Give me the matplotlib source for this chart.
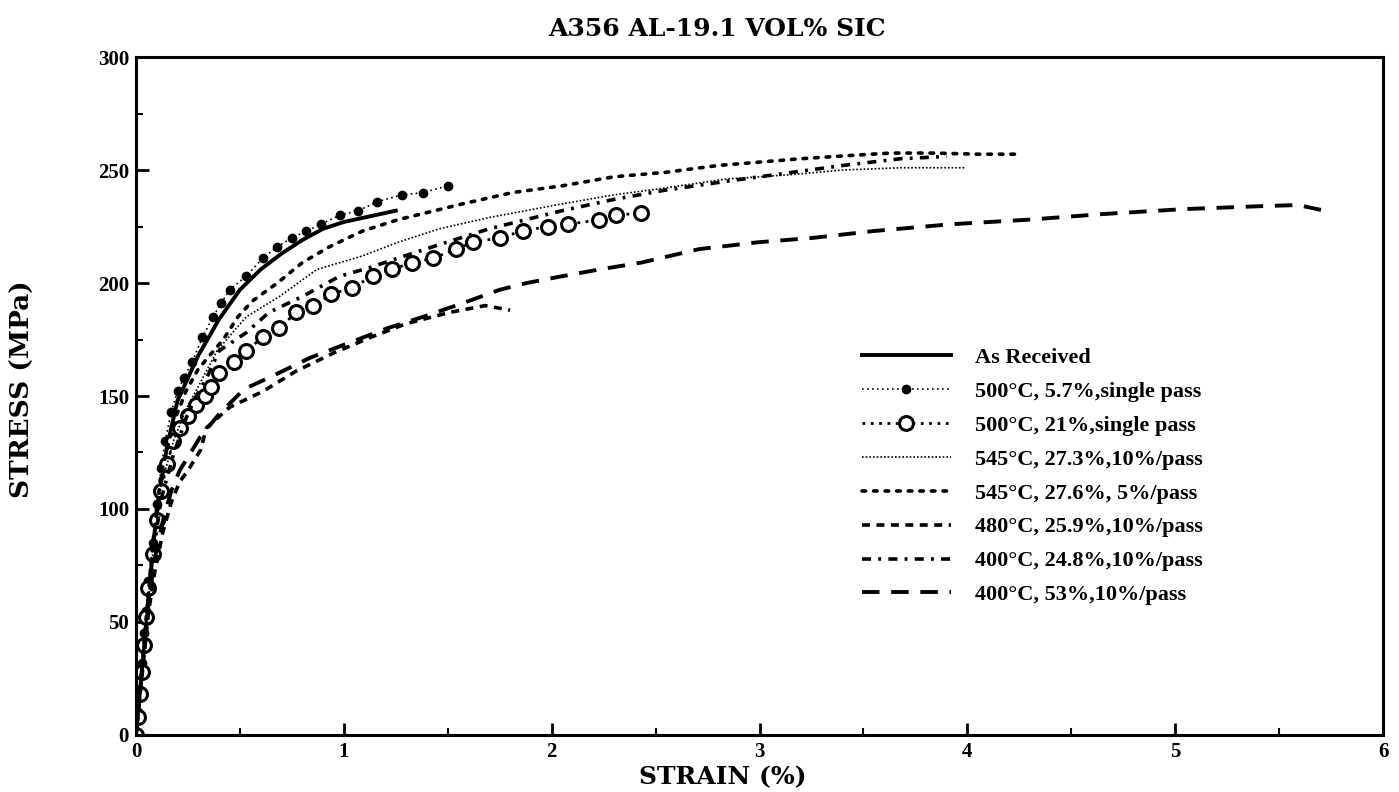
import matplotlib
matplotlib.use('Agg')
import matplotlib.pyplot as plt
from matplotlib.ticker import MultipleLocator

# stress-strain readings, strain in %, stress in MPa
as_recv_x = [0, 0.03, 0.06, 0.10, 0.15, 0.20, 0.30, 0.40, 0.50, 0.60, 0.70, 0.80, 0.90, 1.00, 1.10, 1.25]
as_recv_y = [0, 30, 60, 100, 128, 148, 168, 184, 197, 206, 213, 219, 224, 227, 229, 232]

p57_x = [0, 0.01, 0.02, 0.03, 0.04, 0.05, 0.06, 0.08, 0.10, 0.12, 0.14, 0.17, 0.20, 0.23, 0.27,
         0.32, 0.37, 0.41, 0.45, 0.53, 0.61, 0.68, 0.75, 0.82, 0.89, 0.98, 1.07, 1.16, 1.28, 1.38, 1.50]
p57_y = [0, 10, 20, 32, 45, 55, 68, 85, 102, 118, 130, 143, 152, 158, 165,
         176, 185, 191, 197, 203, 211, 216, 220, 223, 226, 230, 232, 236, 239, 240, 243]

p21_x = [0, 0.01, 0.02, 0.03, 0.04, 0.05, 0.06, 0.08, 0.10, 0.12, 0.15, 0.18, 0.21, 0.25, 0.29, 0.33,
         0.36, 0.40, 0.47, 0.53, 0.61, 0.69, 0.77, 0.85, 0.94, 1.04, 1.14, 1.23, 1.33, 1.43, 1.54,
         1.62, 1.75, 1.86, 1.98, 2.08, 2.23, 2.31, 2.43]
p21_y = [0, 8, 18, 28, 40, 52, 65, 80, 95, 108, 120, 130, 136, 141, 146, 150,
         154, 160, 165, 170, 176, 180, 187, 190, 195, 198, 203, 206, 209, 211, 215,
         218, 220, 223, 225, 226, 228, 230, 231]

c545a_x = [0, 0.04, 0.08, 0.12, 0.18, 0.24, 0.31, 0.39, 0.53, 0.69, 0.87, 1.09, 1.26, 1.46, 1.70,
           2.05, 2.30, 2.54, 2.84, 3.16, 3.40, 3.68, 3.99]
c545a_y = [0, 40, 80, 110, 130, 144, 156, 170, 185, 194, 206, 212, 218, 224, 229,
           235, 239, 242, 246, 248, 250, 251, 251]

c545b_x = [0, 0.04, 0.08, 0.12, 0.18, 0.24, 0.30, 0.42, 0.49, 0.56, 0.68, 0.80, 0.93, 1.09, 1.26,
           1.57, 1.81, 2.05, 2.30, 2.55, 2.80, 3.00, 3.20, 3.45, 3.63, 3.84, 4.05, 4.26]
c545b_y = [0, 42, 84, 115, 138, 152, 162, 175, 185, 192, 200, 209, 216, 223, 228,
           235, 240, 243, 247, 249, 252, 253.5, 255, 256.5, 257.5, 257.5, 257, 257]

c480_x = [0, 0.02, 0.04, 0.06, 0.09, 0.13, 0.17, 0.21, 0.25, 0.31, 0.34, 0.45, 0.61, 0.77, 0.95,
          1.13, 1.30, 1.51, 1.68, 1.80]
c480_y = [0, 18, 36, 54, 72, 90, 103, 112, 117, 126, 136, 145, 152, 161, 169,
          176, 182, 187, 190, 188]

c400a_x = [0, 0.04, 0.08, 0.12, 0.18, 0.24, 0.29, 0.34, 0.40, 0.53, 0.64, 0.80, 0.98, 1.13, 1.26,
           1.46, 1.70, 2.05, 2.30, 2.54, 2.84, 3.16, 3.40, 3.68, 3.90]
c400a_y = [0, 40, 78, 104, 124, 140, 150, 158, 170, 178, 187, 194, 203, 207, 211,
           217, 224, 232, 237, 241, 245, 249, 252, 255, 256]

c400b_x = [0, 0.02, 0.04, 0.06, 0.09, 0.13, 0.17, 0.21, 0.27, 0.31, 0.40, 0.52, 0.66, 0.84, 1.01,
           1.21, 1.38, 1.57, 1.75, 1.88, 2.05, 2.23, 2.43, 2.71, 2.99, 3.26, 3.55, 3.92, 4.29,
           4.65, 5.04, 5.41, 5.59, 5.72]
c400b_y = [0, 20, 40, 58, 78, 95, 108, 117, 126, 132, 142, 153, 159, 167, 173,
           180, 185, 191, 197, 200, 203, 206, 209, 215, 218, 220, 223, 226, 228,
           230.5, 232.7, 234, 234.5, 232]

labels = ['As Received', '500°C, 5.7%,single pass', '500°C, 21%,single pass',
          '545°C, 27.3%,10%/pass', '545°C, 27.6%, 5%/pass', '480°C, 25.9%,10%/pass',
          '400°C, 24.8%,10%/pass', '400°C, 53%,10%/pass']

plt.rcParams['font.family'] = ['Liberation Serif', 'DejaVu Serif']
plt.rcParams['font.weight'] = 'bold'
wide = ['DejaVu Serif']

fig = plt.figure(figsize=(13.99, 7.92), dpi=100)
ax = fig.add_axes([0.0972, 0.072, 0.8914, 0.856])

ax.plot(as_recv_x, as_recv_y, color='black', lw=2.8, label=labels[0])
ax.plot(p57_x, p57_y, color='black', lw=1.2, linestyle=(0, (1, 2)), marker='o', ms=6,
        mfc='black', mec='black', label=labels[1])
ax.plot(p21_x, p21_y, color='black', lw=2, linestyle=(0, (1, 2)), marker='o', ms=10,
        mfc='white', mec='black', mew=2.2, label=labels[2])
ax.plot(c545a_x, c545a_y, color='black', lw=1.2, linestyle=(0, (1, 1.2)), label=labels[3])
ax.plot(c545b_x, c545b_y, color='black', lw=2.6, linestyle=(0, (1, 2.2)),
        dash_capstyle='round', label=labels[4])
ax.plot(c480_x, c480_y, color='black', lw=2.6, linestyle=(0, (2.2, 1.8)), label=labels[5])
ax.plot(c400a_x, c400a_y, color='black', lw=2.6, linestyle=(0, (2.5, 2, 0.8, 2)), label=labels[6])
ax.plot(c400b_x, c400b_y, color='black', lw=2.8, linestyle=(0, (4.5, 3)), label=labels[7])

ax.set_xlim(0, 6)
ax.set_ylim(0, 300)
ax.xaxis.set_major_locator(MultipleLocator(1))
ax.xaxis.set_minor_locator(MultipleLocator(0.5))
ax.yaxis.set_major_locator(MultipleLocator(50))
ax.yaxis.set_minor_locator(MultipleLocator(25))
ax.tick_params(which='major', direction='in', length=9, width=2, labelsize=15, pad=5)
ax.tick_params(which='minor', direction='in', length=5, width=1.5)
for s in ax.spines.values():
    s.set_linewidth(2.2)

fig.text(0.5125, 0.964, 'A356 AL-19.1 VOL% SIC', fontsize=18, fontweight='bold',
         family=wide, ha='center', va='center')
ax.set_xlabel('STRAIN (%)', fontsize=18, fontweight='bold', family=wide)
ax.xaxis.set_label_coords(0.4707, -0.062, transform=ax.transAxes)
ax.xaxis.label.set_va('center')
ax.set_ylabel('STRESS (MPa)', fontsize=19, fontweight='bold', family=wide)
ax.yaxis.set_label_coords(-0.091, 0.51, transform=ax.transAxes)
ax.yaxis.label.set_va('center')

ax.legend(loc='upper left', bbox_to_anchor=(0.573, 0.588), frameon=False, fontsize=16,
          handlelength=4.0, handletextpad=1.1, labelspacing=0.6, borderpad=0)

fig.savefig('out.png', dpi=100)
